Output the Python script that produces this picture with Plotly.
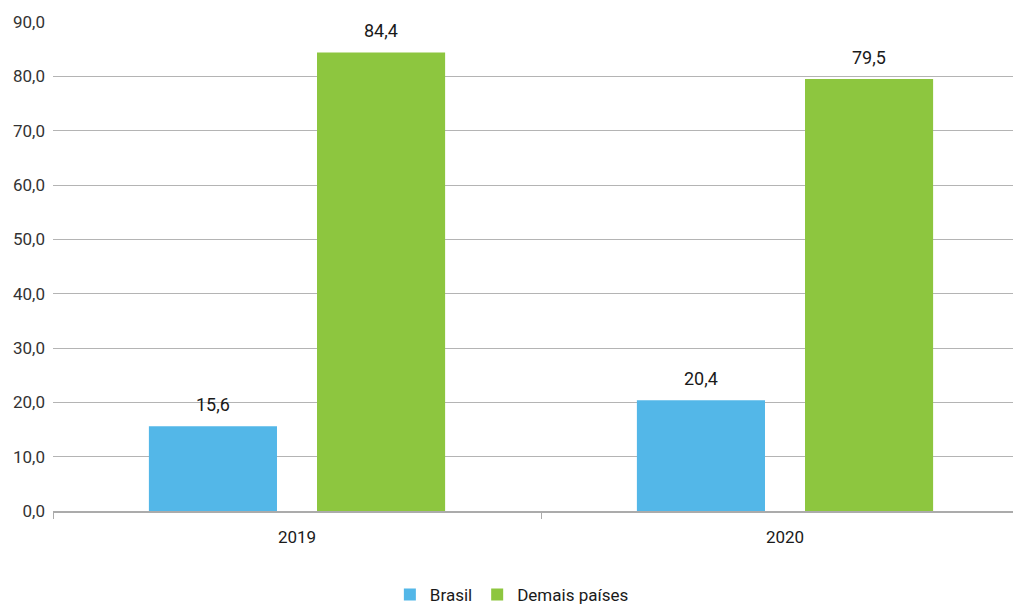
import plotly.graph_objects as go

categories = ["2019", "2020"]
brasil = [15.6, 20.4]
demais = [84.4, 79.5]
series_names = ["Brasil", "Demais países"]
y_ticks = [0, 10, 20, 30, 40, 50, 60, 70, 80, 90]

FONT = "Roboto, DejaVu Sans Condensed, sans-serif"
colors = ["#53B7E8", "#8DC63F"]

fig = go.Figure()
for name, vals, col in zip(series_names, [brasil, demais], colors):
    fig.add_trace(go.Bar(x=categories, y=vals, name=name, marker_color=col,
                         marker_line_width=0))

# data labels (x given as category index on the category axis)
for vals, shift in [(brasil, -84), (demais, 84)]:
    for i, v in enumerate(vals):
        fig.add_annotation(x=i, y=v, xref="x", yref="y",
                           text=f"{v:.1f}".replace(".", ","),
                           showarrow=False, yanchor="bottom", xshift=shift, yshift=9,
                           font=dict(family=FONT, size=18, color="#1a1a1a"))

# the page adds an 8px body margin, so the figure is 8px smaller and margins compensate
fig.update_layout(
    width=1013, height=597,
    margin=dict(l=45, r=0, t=14, b=94),
    paper_bgcolor="white", plot_bgcolor="white",
    barmode="group", bargap=0.311, bargroupgap=0.238,
    separators=",.",
    font=dict(family=FONT, size=17, color="#333333"),
    showlegend=True,
    legend=dict(orientation="h", x=0.348, xanchor="left", xref="paper",
                yref="container", y=0.017, yanchor="middle",
                font=dict(family=FONT, size=17, color="#1a1a1a"), itemwidth=30),
)
fig.update_xaxes(type="category", range=[-0.5, 1.4836], showline=True, linecolor="#ABABAB",
                 linewidth=1.5, ticks="outside", tickson="boundaries", ticklen=6,
                 tickcolor="#ABABAB", showgrid=False, ticklabelstandoff=10,
                 automargin=False,
                 tickfont=dict(family=FONT, size=17, color="#1a1a1a"))
fig.update_yaxes(range=[0, 90], tickvals=y_ticks, tickformat=".1f", showgrid=True,
                 gridcolor="#B4B4B4", gridwidth=1.2, zeroline=False, showline=False,
                 ticks="", ticklabelstandoff=7, automargin=False,
                 tickfont=dict(family=FONT, size=17, color="#333333"))

fig.write_html("out.html")
